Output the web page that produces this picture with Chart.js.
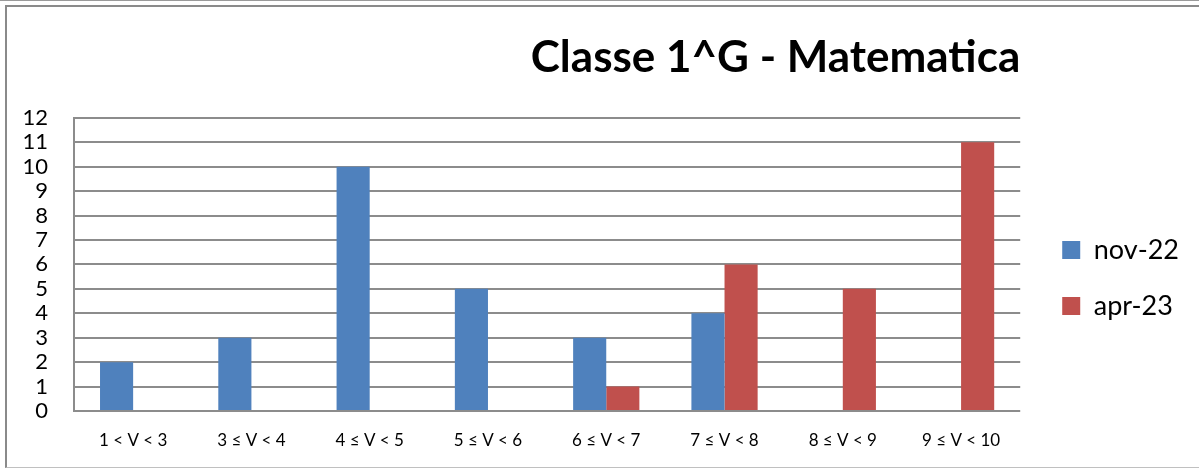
<!DOCTYPE html>
<html>
<head>
<meta charset="utf-8">
<script src="https://cdn.jsdelivr.net/npm/chart.js@4.4.0/dist/chart.umd.min.js"></script>
<style>
  html, body { margin: 0; padding: 0; background: #ffffff; overflow: hidden; }
  #wrap { position: relative; width: 1199px; height: 468px; }
  #c { position: absolute; left: 0; top: 0; }
  #topline { position: absolute; left: 0; top: 0; width: 1199px; height: 1px; background: #9a9a9a; pointer-events: none; }
  #frame { position: absolute; left: 5px; top: 5px; width: 1210px; height: 460px;
           border-left: 2px solid #8a8a8a; border-top: 2px solid #8a8a8a; border-bottom: 1px solid #c0c0c0;
           pointer-events: none; }
</style>
</head>
<body>
<div id="wrap">
  <canvas id="c" width="1199" height="468"></canvas>
  <div id="topline"></div>
  <div id="frame"></div>
</div>
<script>
const titleText = 'Classe 1^G - Matematica';
const categories = ['1 < V < 3', '3 ≤ V < 4', '4 ≤ V < 5', '5 ≤ V < 6', '6 ≤ V < 7', '7 ≤ V < 8', '8 ≤ V < 9', '9 ≤ V < 10'];
const seriesNames = ['nov-22', 'apr-23'];
const nov22 = [2, 3, 10, 5, 3, 4, 0, 0];
const apr23 = [0, 0, 0, 0, 1, 6, 5, 11];
const yTicks = [0, 1, 2, 3, 4, 5, 6, 7, 8, 9, 10, 11, 12];

const FONT = 'Lato, "Liberation Sans", Arial, sans-serif';

new Chart(document.getElementById('c'), {
  type: 'bar',
  data: {
    labels: categories,
    datasets: [
      { label: seriesNames[0], data: nov22, backgroundColor: '#4F81BD', borderWidth: 0 },
      { label: seriesNames[1], data: apr23, backgroundColor: '#C0504D', borderWidth: 0 }
    ]
  },
  options: {
    responsive: false,
    animation: false,
    events: [],
    layout: { padding: { left: 0, right: 10, top: 0, bottom: 19 } },
    datasets: { bar: { categoryPercentage: 0.56, barPercentage: 1.0 } },
    plugins: {
      title: {
        display: true,
        text: titleText,
        align: 'end',
        fullSize: false,
        color: '#000000',
        font: { family: FONT, size: 44, weight: 'bold' },
        padding: { top: 31, bottom: 34 }
      },
      legend: {
        display: true,
        position: 'right',
        align: 'center',
        title: { display: true, text: ' ', font: { size: 10 }, padding: { top: 47, bottom: 48 } },
        labels: {
          boxWidth: 18,
          boxHeight: 18,
          padding: 29,
          color: '#000000',
          font: { family: FONT, size: 27 }
        }
      },
      tooltip: { enabled: false }
    },
    scales: {
      x: {
        afterFit: (a) => { a.height = 38; },
        grid: { display: false, drawTicks: false },
        border: { display: false },
        ticks: { color: '#000000', padding: 19, maxRotation: 0, autoSkip: false, font: { family: FONT, size: 17 } }
      },
      y: {
        min: 0,
        max: 12,
        afterFit: (a) => { a.width = 74; },
        afterBuildTicks: (axis) => { axis.ticks = yTicks.map(v => ({ value: v })); },
        grid: { color: '#8c8c8c', lineWidth: 2, drawTicks: false },
        border: { display: true, color: '#8c8c8c', width: 2 },
        ticks: { color: '#000000', padding: 26, autoSkip: false, font: { family: FONT, size: 22 } }
      },
      yR: {
        type: 'linear',
        position: 'right',
        display: true,
        afterFit: (a) => { a.width = 13; },
        grid: { display: false, drawTicks: false },
        border: { display: false },
        ticks: { display: false }
      }
    }
  }
});
</script>
</body>
</html>
